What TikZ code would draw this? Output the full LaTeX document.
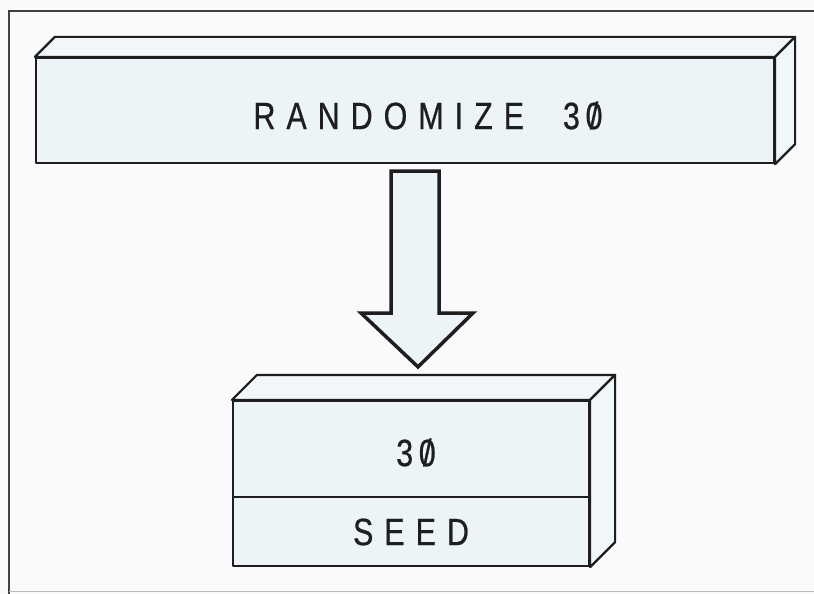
\documentclass[tikz,border=0pt]{standalone}
\usepackage{fontspec}
\newfontfamily\lblfont[FakeStretch=0.8,LetterSpace=29,FakeBold=0.6]{Liberation Sans}
\newcommand\slz{\ooalign{0\cr\hidewidth/\hidewidth\cr}}
\definecolor{bg}{HTML}{FAFAFC}
\definecolor{facefill}{HTML}{ECF4F8}
\definecolor{sidefill}{HTML}{F1F6F9}
\definecolor{ink}{HTML}{1E1E1E}
\tikzset{
  face/.style={draw=ink, line width=2.2pt, fill=facefill, inner sep=0pt, line join=round},
  side/.style={draw=ink, line width=2.2pt, fill=sidefill, line join=round},
  lbl/.style={font=\lblfont\fontsize{38}{42}\selectfont, text=ink, inner sep=0pt},
  bigarrow/.style={draw=ink, line width=3.5pt, fill=facefill, line join=miter}
}
\begin{document}
\begin{tikzpicture}[x=1pt,y=-1pt]
\useasboundingbox (0,0) rectangle (814,594);
\fill[bg] (0,0) rectangle (814,594);
% frame
\draw[ink!85, line width=1.8pt] (9,594) -- (9,11) -- (814,11);
\draw[ink!30, line width=1pt] (9,591) -- (814,591);
% top box
\node[face, minimum width=738pt, minimum height=105pt] (top) at (405,110.5) {};
\path[side] (top.north west) -- ++(20,-20) -- ([xshift=20pt,yshift=20pt]top.north east) -- (top.north east) -- cycle;
\path[side] (top.north east) -- ++(20,-20) -- ([xshift=20pt,yshift=20pt]top.south east) -- (top.south east) -- cycle;
\node[lbl] (toptxt) at (428,116) {RANDOMIZE\ \ 3\hspace{0.15em}\slz};
% lower box
\node[face, minimum width=356pt, minimum height=165pt] (low) at (411,483.5) {};
\path[side] (low.north west) -- ++(25,-25) -- ([xshift=25pt,yshift=25pt]low.north east) -- (low.north east) -- cycle;
\path[side] (low.north east) -- ++(25,-25) -- ([xshift=25pt,yshift=25pt]low.south east) -- (low.south east) -- cycle;
\coordinate (divL) at ([yshift=-97pt]low.north west);
\coordinate (divR) at ([yshift=-97pt]low.north east);
\draw[ink, line width=2.2pt] (divL) -- (divR);
\node[lbl] (val) at (416,453) {3\hspace{0.15em}\slz};
\node[lbl] (seed) at (411,532) {SEED};
% big arrow
\coordinate (atop) at ([xshift=10pt,yshift=-7pt]top.south);
\coordinate (atip) at ([xshift=7pt,yshift=33pt]low.north);
\path[bigarrow] ([xshift=-24pt]atop) -- ([xshift=24pt]atop) -- ([xshift=24pt]atop |- 0,313) -- (473,313) -- (atip) -- (361,313) -- ([xshift=-24pt]atop |- 0,313) -- cycle;
\end{tikzpicture}
\end{document}
